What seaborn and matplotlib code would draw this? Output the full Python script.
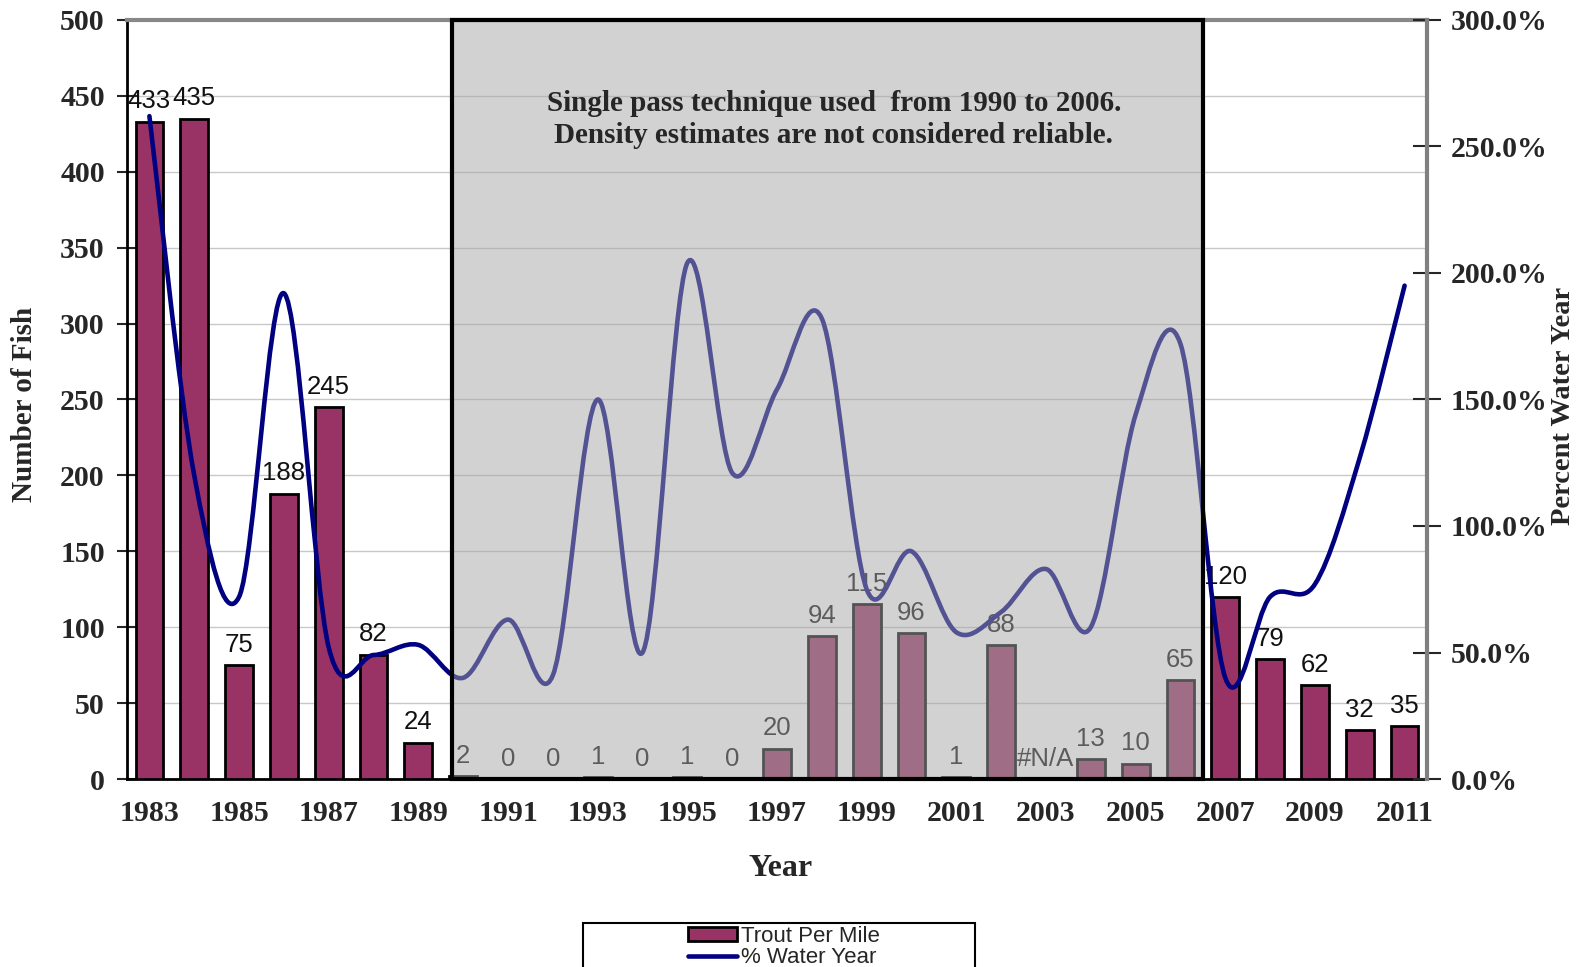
import numpy as np
import pandas as pd
import matplotlib
matplotlib.use("Agg")
import matplotlib.pyplot as plt
import seaborn as sns
from matplotlib.path import Path
from matplotlib.patches import PathPatch, Rectangle, Patch
from matplotlib.lines import Line2D

# ---- data -------------------------------------------------------------
years = list(range(1983, 2012))
trout_per_mile = [433, 435, 75, 188, 245, 82, 24, 2, 0, 0, 1, 0, 1, 0, 20,
                  94, 115, 96, 1, 88, np.nan, 13, 10, 65, 120, 79, 62, 32, 35]
water_year_pct = [262, 120, 72, 192, 52, 49, 53, 40, 63, 41, 150, 50, 204, 121,
                  154, 182, 75, 90, 58, 66, 83, 60, 144, 172, 40, 72, 77, 127, 195]
year_tick_labels = [str(y) for y in years[::2]]
left_ticks = list(range(0, 501, 50))
right_ticks = list(range(0, 301, 50))
note = ("Single pass technique used  from 1990 to 2006.\n"
        "Density estimates are not considered reliable.")
single_pass_first, single_pass_last = "1990", "2006"

# ---- style ------------------------------------------------------------
sns.set_style("white")
plt.rcParams["font.family"] = ["Liberation Serif", "DejaVu Serif"]
SANS = ["Liberation Sans", "DejaVu Sans"]
BAR = "#993366"
NAVY = "#000080"
TICK_SIZE = 21.5

W, H = 1581, 967
fig = plt.figure(figsize=(W / 100, H / 100), dpi=100)
ax = fig.add_axes([127 / W, 1 - 779 / H, 1300 / W, 759 / H])

order = [str(y) for y in years]
df = pd.DataFrame({"Year": order, "Trout": trout_per_mile})
sns.barplot(data=df, x="Year", y="Trout", order=order, ax=ax, color=BAR,
            saturation=1, edgecolor="black", linewidth=2, width=0.62,
            errorbar=None, zorder=3)

ax.set_xlim(-0.5, len(years) - 0.5)
ax.set_ylim(0, 500)
ax.set_xlabel("")
ax.set_ylabel("")

# value labels above bars
for i, v in enumerate(trout_per_mile):
    txt = "#N/A" if np.isnan(v) else f"{int(v)}"
    ax.annotate(txt, (i, 0 if np.isnan(v) else v), xytext=(0, 6),
                textcoords="offset points", ha="center", va="bottom",
                fontsize=18.5, family=SANS, color="#111111", zorder=5)

# gridlines and left axis
ax.yaxis.grid(True, color="#c8c8c8", lw=1)
ax.set_axisbelow(True)
ax.set_yticks(left_ticks)
ax.tick_params(axis="y", direction="inout", length=14, width=1.5,
               labelsize=TICK_SIZE, pad=9)
for lbl in ax.get_yticklabels():
    lbl.set_fontweight("bold")

# x axis: ticks between categories, labels on every other year
ax.set_xticks(np.arange(-0.5, len(years), 1.0))
ax.set_xticklabels([])
ax.tick_params(axis="x", which="major", direction="out", length=9, width=1.5)
ax.set_xticks([order.index(t) for t in year_tick_labels], minor=True)
ax.set_xticklabels(year_tick_labels, minor=True)
ax.tick_params(axis="x", which="minor", length=0, labelsize=TICK_SIZE, pad=15)
for lbl in ax.get_xticklabels(minor=True):
    lbl.set_fontweight("bold")

for side in ["left", "bottom"]:
    ax.spines[side].set_color("black")
    ax.spines[side].set_linewidth(2)
ax.spines["top"].set_color("#888888")
ax.spines["top"].set_linewidth(3)
ax.spines["right"].set_visible(False)

# ---- percent water year on secondary axis ----------------------------
ax2 = ax.twinx()
ax2.set_ylim(0, 300)
pts = np.column_stack([np.arange(len(years)), water_year_pct]).astype(float)
verts = [pts[0]]
codes = [Path.MOVETO]
n = len(pts)
for i in range(n - 1):
    p0 = pts[max(i - 1, 0)]
    p1 = pts[i]
    p2 = pts[i + 1]
    p3 = pts[min(i + 2, n - 1)]
    verts += [p1 + (p2 - p0) / 6.0, p2 - (p3 - p1) / 6.0, p2]
    codes += [Path.CURVE4] * 3
ax2.add_patch(PathPatch(Path(verts, codes), facecolor="none", edgecolor=NAVY,
                        lw=3.3, capstyle="round", joinstyle="round", zorder=4))

ax2.set_yticks(right_ticks)
ax2.set_yticklabels([f"{v:.1f}%" for v in right_ticks])
ax2.tick_params(axis="y", direction="inout", length=20, width=1.5,
                labelsize=TICK_SIZE, pad=7)
for lbl in ax2.get_yticklabels():
    lbl.set_fontweight("bold")
for side in ["left", "top", "bottom"]:
    ax2.spines[side].set_visible(False)
ax2.spines["right"].set_color("#808080")
ax2.spines["right"].set_linewidth(3)

# shaded single-pass period
x0 = order.index(single_pass_first) - 0.26
x1 = order.index(single_pass_last) + 0.5
band_tr = ax2.get_xaxis_transform()
ax2.add_patch(Rectangle((x0, 0), x1 - x0, 1, transform=band_tr,
                        facecolor="#a7a7a7", alpha=0.5, edgecolor="none",
                        zorder=10, clip_on=False))
ax2.add_patch(Rectangle((x0, 0), x1 - x0, 1, transform=band_tr, fill=False,
                        edgecolor="black", lw=3, zorder=11, clip_on=False))
ax2.text((x0 + x1) / 2 + 0.15, 0.869, note, transform=band_tr, ha="center",
         va="center", multialignment="center", fontsize=21, fontweight="bold",
         linespacing=1.25, zorder=12)

# ---- axis titles ------------------------------------------------------
fig.text(25 / W, 1 - 404 / H, "Number of Fish", rotation=90, ha="center",
         va="center", fontsize=21, fontweight="bold")
fig.text(1563 / W, 1 - 406 / H, "Percent Water Year", rotation=90,
         ha="center", va="center", fontsize=20.5, fontweight="bold")
fig.text(781 / W, 1 - 869 / H, "Year", ha="center", va="center",
         fontsize=23, fontweight="bold")

# ---- legend -----------------------------------------------------------
fig.add_artist(Rectangle((583 / W, -0.05), (975 - 583) / W,
                         0.05 + (967 - 923) / H, transform=fig.transFigure,
                         fill=False, edgecolor="black", lw=1.5))
handles = [Patch(facecolor=BAR, edgecolor="black", lw=2),
           Line2D([], [], color=NAVY, lw=3.3)]
fig.legend(handles, ["Trout Per Mile", "% Water Year"], loc="upper center",
           bbox_to_anchor=(784 / W, 1 - 915 / H), frameon=False,
           prop={"family": SANS, "size": 16}, handlelength=2.2,
           handleheight=0.6, handletextpad=0.2, labelspacing=0.0,
           borderpad=0)

fig.savefig("out.png", dpi=100, facecolor="white")
